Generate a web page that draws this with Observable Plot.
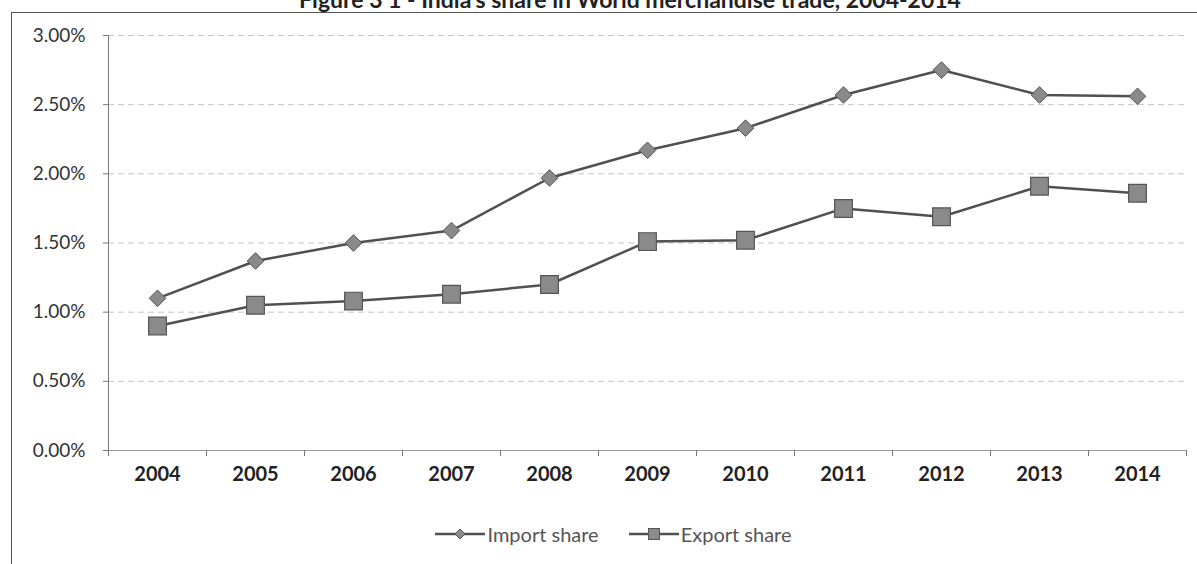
<!DOCTYPE html>
<html>
<head>
<meta charset="utf-8">
<script src="https://cdn.jsdelivr.net/npm/d3@7"></script>
<script src="https://cdn.jsdelivr.net/npm/@observablehq/plot@0.6"></script>
<style>
  html, body { margin: 0; padding: 0; background: #fff; overflow: hidden; }
  body { width: 1197px; height: 564px; position: relative; font-family: Lato, "Open Sans", sans-serif; }
  #frame { position: absolute; left: 11px; top: 12px; width: 1186px; height: 560px;
           border-left: 1.5px solid #555; border-top: 1.5px solid #555; box-sizing: border-box; }
  #title { position: absolute; top: -12px; left: 0; width: 1260px; text-align: center; line-height: 1;
           font-weight: bold; font-size: 23px; color: #222; white-space: nowrap; }
  #chart { position: absolute; left: 0; top: 0; }
  #legend { position: absolute; top: 522px; left: 0; width: 1227px; display: flex; justify-content: center;
            gap: 30px; font-size: 20px; color: #555; }
  .item { display: flex; align-items: center; gap: 2px; }
</style>
</head>
<body>
<div id="frame"></div>
<div id="title">Figure 3 1 - India's share in World merchandise trade, 2004-2014</div>
<div id="chart"></div>
<div id="legend"></div>
<script>
const years = [2004, 2005, 2006, 2007, 2008, 2009, 2010, 2011, 2012, 2013, 2014];
const importShare = [1.10, 1.37, 1.50, 1.59, 1.97, 2.17, 2.33, 2.57, 2.75, 2.57, 2.56];
const exportShare = [0.90, 1.05, 1.08, 1.13, 1.20, 1.51, 1.52, 1.75, 1.69, 1.91, 1.86];
const yTicks = [0, 0.5, 1.0, 1.5, 2.0, 2.5, 3.0];
const seriesNames = ["Import share", "Export share"];

const lineColor = "#505050";
const markFill = "#8a8a8a";
const markStroke = "#555";

const rows = [];
years.forEach((y, i) => {
  rows.push({ year: y, value: importShare[i], series: seriesNames[0] });
  rows.push({ year: y, value: exportShare[i], series: seriesNames[1] });
});
const boundaries = [years[0] - 0.5, ...years.map(y => y + 0.5)];

const chart = Plot.plot({
  width: 1197,
  height: 500,
  marginLeft: 108,
  marginRight: 11,
  marginTop: 35,
  marginBottom: 50,
  style: { fontFamily: "Lato, 'Open Sans', sans-serif", fontSize: "20px", color: "#333", background: "transparent" },
  x: { type: "linear", domain: [years[0] - 0.5, years[years.length - 1] + 0.5] },
  y: { domain: [0, 3.0] },
  marks: [
    Plot.gridY(yTicks.filter(d => d > 0), { stroke: "#c4c4c4", strokeOpacity: 1, strokeDasharray: "6,4", strokeWidth: 1 }),
    Plot.ruleX([years[0] - 0.5], { stroke: "#777", strokeWidth: 1 }),
    Plot.ruleY([0], { stroke: "#999", strokeWidth: 1 }),
    Plot.axisY({ ticks: yTicks, tickFormat: d => d.toFixed(2) + "%", tickSize: 5, tickPadding: 18, stroke: "#777", label: null, fill: "#333", fontSize: 19 }),
    Plot.axisX({ ticks: boundaries, tickFormat: () => "", tickSize: 6, stroke: "#777", label: null }),
    Plot.axisX({ ticks: years, tickFormat: d => String(d), tickSize: 0, tickPadding: 16, label: null, fontWeight: "bold", fill: "#222", fontSize: 20 }),
    Plot.line(rows, { x: "year", y: "value", z: "series", stroke: lineColor, strokeWidth: 2.5 }),
    Plot.dot(rows.filter(d => d.series === seriesNames[0]), { x: "year", y: "value", symbol: "diamond2", r: 7.5, fill: markFill, stroke: markStroke, strokeWidth: 1 }),
    Plot.dot(rows.filter(d => d.series === seriesNames[1]), { x: "year", y: "value", symbol: "square", r: 10, fill: markFill, stroke: markStroke, strokeWidth: 1.2 })
  ]
});
document.getElementById("chart").appendChild(chart);

// legend
const legend = document.getElementById("legend");
seriesNames.forEach((name, i) => {
  const item = document.createElement("div");
  item.className = "item";
  const svg = d3.create("svg").attr("width", 50).attr("height", 18);
  svg.append("line").attr("x1", 0).attr("x2", 50).attr("y1", 9).attr("y2", 9).attr("stroke", lineColor).attr("stroke-width", 2.5);
  if (i === 0) {
    svg.append("path").attr("d", "M25,4 L30,9 L25,14 L20,9 Z").attr("fill", markFill).attr("stroke", markStroke);
  } else {
    svg.append("rect").attr("x", 19.5).attr("y", 3.5).attr("width", 11).attr("height", 11).attr("fill", markFill).attr("stroke", markStroke);
  }
  item.appendChild(svg.node());
  const span = document.createElement("span");
  span.textContent = name;
  item.appendChild(span);
  legend.appendChild(item);
});
</script>
</body>
</html>
